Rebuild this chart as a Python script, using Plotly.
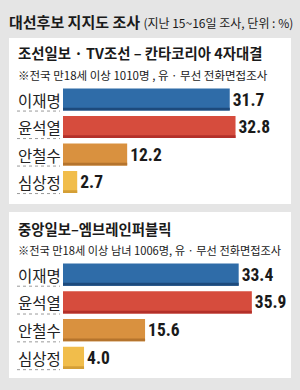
import plotly.graph_objects as go

W, H = 300, 390
candidates = ["이재명", "윤석열", "안철수", "심상정"]
poll1_values = [31.7, 32.8, 12.2, 2.7]
poll2_values = [33.4, 35.9, 15.6, 4.0]
bar_colors = ["#2f6ca8", "#d64c3d", "#d9913f", "#f1bd4b"]
edge_colors = ["#1d4a7c", "#b3302a", "#b5742d", "#d49f36"]

title_main = "대선후보 지지도 조사"
title_sub = "(지난 15~16일 조사, 단위 : %)"
poll1_title = "조선일보 · TV조선 – 칸타코리아 4자대결"
poll1_note = "※전국 만18세 이상 1010명 , 유 · 무선 전화면접조사"
poll2_title = "중앙일보–엠브레인퍼블릭"
poll2_note = "※전국 만18세 이상 남녀 1006명, 유 · 무선 전화면접조사"

KR = "Noto Sans CJK KR, sans-serif"
NUM = "Liberation Sans Narrow, Roboto Condensed, Liberation Sans, Arial, sans-serif"

def px_x(p):
    return p / W

def px_y(p):
    return 1 - p / H

ypos = list(range(len(candidates)))
fig = go.Figure()

for k, vals in enumerate([poll1_values, poll2_values]):
    xa = "x" if k == 0 else "x2"
    ya = "y" if k == 0 else "y2"
    fig.add_trace(go.Bar(
        x=vals, y=ypos, orientation="h", width=0.8,
        marker=dict(color=bar_colors, line=dict(width=0)),
        text=[f"{v:.1f}" for v in vals], textposition="outside",
        textfont=dict(family=NUM, size=17.5, color="#1a1a1a", weight="bold"),
        cliponaxis=False, xaxis=xa, yaxis=ya, hoverinfo="skip",
    ))
    fig.add_trace(go.Bar(
        x=vals, y=ypos, orientation="h", width=0.1, offset=0.3,
        marker=dict(color=edge_colors, line=dict(width=0)),
        xaxis=xa, yaxis=ya, hoverinfo="skip",
    ))

xmax = (291 - 63) / 5.26
axis_common = dict(showgrid=False, zeroline=False, showticklabels=False, showline=False, ticks="", fixedrange=True)
fig.update_layout(
    width=W, height=H, margin=dict(l=0, r=0, t=0, b=0),
    paper_bgcolor="#e5e5e5", plot_bgcolor="rgba(0,0,0,0)",
    showlegend=False, barmode="overlay",
    xaxis=dict(domain=[px_x(63), px_x(291)], range=[0, xmax], anchor="y", **axis_common),
    yaxis=dict(domain=[px_y(195.75), px_y(85.75)], range=[3.5, -0.5], anchor="x", **axis_common),
    xaxis2=dict(domain=[px_x(63), px_x(291)], range=[0, xmax], anchor="y2", **axis_common),
    yaxis2=dict(domain=[px_y(371.9), px_y(260.6)], range=[3.5, -0.5], anchor="x2", **axis_common),
)

shapes = []
# panels
for top, bottom in [(38, 204), (212, 378)]:
    shapes.append(dict(type="rect", xref="paper", yref="paper", x0=px_x(9), x1=px_x(291),
                       y0=px_y(bottom), y1=px_y(top), fillcolor="white", line=dict(width=0), layer="below"))
annotations = []
for yref in ["y", "y2"]:
    for i, name in enumerate(candidates):
        shapes.append(dict(type="line", xref="paper", yref=yref, x0=px_x(17), x1=px_x(60),
                           y0=i + 0.42, y1=i + 0.42, line=dict(color="#9a9a9a", width=1, dash="dot")))
        annotations.append(dict(text=name, xref="paper", yref=yref, x=px_x(16), y=i,
                                xanchor="left", yanchor="middle", showarrow=False,
                                font=dict(family=KR, size=15.5, color="#222")))

annotations.append(dict(
    text=f"<b>{title_main}</b> <span style='font-size:12px'>{title_sub}</span>",
    xref="paper", yref="paper", x=px_x(7), y=px_y(21), xanchor="left", yanchor="middle",
    showarrow=False, font=dict(family=KR, size=15, color="#1a1a1a")))
for txt, yc, size, bold in [(poll1_title, 53, 14.4, True), (poll1_note, 75, 11.5, False),
                            (poll2_title, 228, 14.4, True), (poll2_note, 250, 11.2, False)]:
    annotations.append(dict(text=f"<b>{txt}</b>" if bold else txt, xref="paper", yref="paper",
                            x=px_x(16), y=px_y(yc), xanchor="left", yanchor="middle",
                            showarrow=False, font=dict(family=KR, size=size, color="#1a1a1a")))

fig.update_layout(shapes=shapes, annotations=annotations)
fig.write_html("out.html")
